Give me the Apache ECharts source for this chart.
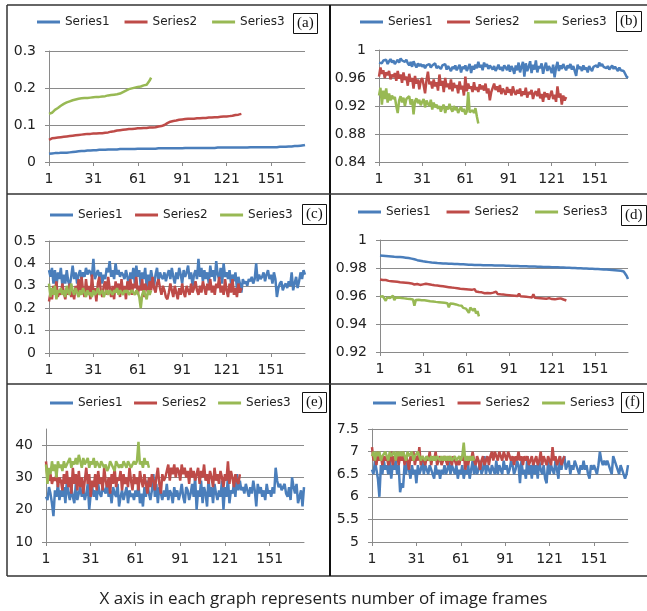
<!DOCTYPE html>
<html><head><meta charset="utf-8">
<script src="https://cdn.jsdelivr.net/npm/echarts@6/dist/echarts.min.js"></script>
<style>html,body{margin:0;padding:0;background:#fff}#c{width:647px;height:611px}</style>
</head><body><div id="c"></div>
<script>
const frames = [1,2,3,4,5,6,7,8,9,10,11,12,13,14,15,16,17,18,19,20,21,22,23,24,25,26,27,28,29,30,31,32,33,34,35,36,37,38,39,40,41,42,43,44,45,46,47,48,49,50,51,52,53,54,55,56,57,58,59,60,61,62,63,64,65,66,67,68,69,70,71,72,73,74,75,76,77,78,79,80,81,82,83,84,85,86,87,88,89,90,91,92,93,94,95,96,97,98,99,100,101,102,103,104,105,106,107,108,109,110,111,112,113,114,115,116,117,118,119,120,121,122,123,124,125,126,127,128,129,130,131,132,133,134,135,136,137,138,139,140,141,142,143,144,145,146,147,148,149,150,151,152,153,154,155,156,157,158,159,160,161,162,163,164,165,166,167,168,169,170,171,172,173,174];
const seriesNames = ['Series1','Series2','Series3'];
const panelLabels = ['(a)','(b)','(c)','(d)','(e)','(f)'];
const footer = 'X axis in each graph represents number of image frames';

const a1 = [0.022,0.022,0.023,0.023,0.024,0.024,0.024,0.025,0.025,0.025,0.025,0.025,0.025,0.026,0.026,0.026,0.027,0.027,0.028,0.028,0.029,0.029,0.030,0.030,0.030,0.031,0.031,0.031,0.031,0.032,0.032,0.032,0.032,0.032,0.033,0.033,0.033,0.033,0.033,0.033,0.034,0.034,0.034,0.034,0.034,0.034,0.034,0.035,0.035,0.035,0.035,0.035,0.035,0.035,0.035,0.035,0.035,0.035,0.035,0.036,0.036,0.036,0.036,0.036,0.036,0.036,0.036,0.036,0.036,0.036,0.036,0.036,0.036,0.036,0.037,0.037,0.037,0.037,0.037,0.037,0.037,0.037,0.037,0.037,0.037,0.037,0.037,0.037,0.037,0.037,0.037,0.037,0.038,0.038,0.038,0.038,0.038,0.038,0.038,0.038,0.038,0.038,0.038,0.038,0.038,0.038,0.038,0.038,0.038,0.038,0.038,0.038,0.038,0.039,0.039,0.039,0.039,0.039,0.039,0.039,0.039,0.039,0.039,0.039,0.039,0.039,0.039,0.039,0.039,0.039,0.039,0.039,0.039,0.039,0.039,0.040,0.040,0.040,0.040,0.040,0.040,0.040,0.040,0.040,0.040,0.040,0.040,0.040,0.040,0.040,0.040,0.040,0.040,0.040,0.040,0.040,0.041,0.041,0.041,0.041,0.041,0.042,0.042,0.042,0.042,0.043,0.043,0.043,0.043,0.044,0.044,0.044,0.045,0.046];
const a2 = [0.060,0.063,0.064,0.065,0.065,0.066,0.066,0.067,0.067,0.068,0.068,0.069,0.069,0.070,0.070,0.070,0.071,0.071,0.072,0.072,0.073,0.073,0.074,0.074,0.075,0.075,0.076,0.076,0.076,0.077,0.077,0.077,0.077,0.078,0.078,0.078,0.078,0.078,0.079,0.080,0.080,0.081,0.082,0.083,0.083,0.084,0.085,0.085,0.086,0.086,0.087,0.087,0.088,0.088,0.089,0.089,0.089,0.090,0.090,0.090,0.091,0.091,0.091,0.092,0.092,0.092,0.092,0.093,0.093,0.093,0.093,0.093,0.094,0.095,0.096,0.097,0.097,0.098,0.100,0.102,0.105,0.107,0.109,0.110,0.111,0.112,0.112,0.113,0.114,0.115,0.115,0.116,0.116,0.116,0.117,0.117,0.117,0.117,0.117,0.118,0.118,0.118,0.118,0.118,0.119,0.119,0.119,0.119,0.120,0.120,0.120,0.120,0.121,0.121,0.121,0.122,0.122,0.122,0.123,0.123,0.123,0.124,0.124,0.125,0.125,0.126,0.127,0.127,0.128,0.129,0.130];
const a3 = [0.130,0.129,0.133,0.138,0.141,0.143,0.146,0.149,0.152,0.155,0.157,0.159,0.161,0.163,0.164,0.166,0.167,0.168,0.169,0.170,0.171,0.171,0.172,0.172,0.173,0.173,0.173,0.173,0.174,0.174,0.175,0.175,0.176,0.176,0.176,0.177,0.177,0.178,0.178,0.179,0.180,0.180,0.181,0.181,0.182,0.182,0.183,0.184,0.185,0.187,0.189,0.191,0.193,0.195,0.197,0.198,0.199,0.200,0.201,0.202,0.203,0.203,0.204,0.205,0.207,0.208,0.209,0.212,0.220,0.228];

const b1 = [0.982,0.984,0.981,0.985,0.983,0.986,0.980,0.984,0.987,0.982,0.985,0.980,0.983,0.986,0.982,0.988,0.985,0.987,0.983,0.986,0.981,0.978,0.983,0.976,0.984,0.979,0.975,0.981,0.977,0.980,0.976,0.979,0.974,0.978,0.977,0.980,0.975,0.978,0.976,0.981,0.974,0.977,0.979,0.973,0.978,0.976,0.980,0.972,0.977,0.975,0.970,0.976,0.973,0.978,0.971,0.975,0.979,0.968,0.976,0.973,0.978,0.970,0.975,0.980,0.967,0.977,0.972,0.979,0.974,0.983,0.975,0.979,0.971,0.982,0.976,0.980,0.973,0.978,0.975,0.972,0.977,0.970,0.974,0.979,0.972,0.976,0.970,0.978,0.975,0.971,0.979,0.969,0.977,0.973,0.966,0.978,0.971,0.982,0.968,0.976,0.983,0.962,0.981,0.970,0.976,0.984,0.967,0.979,0.972,0.985,0.968,0.977,0.974,0.981,0.966,0.975,0.982,0.970,0.977,0.973,0.967,0.979,0.961,0.975,0.983,0.970,0.978,0.973,0.980,0.975,0.971,0.978,0.974,0.980,0.972,0.977,0.975,0.963,0.979,0.973,0.976,0.970,0.978,0.972,0.975,0.968,0.977,0.973,0.970,0.976,0.974,0.978,0.975,0.982,0.977,0.980,0.976,0.978,0.974,0.977,0.972,0.975,0.978,0.973,0.976,0.974,0.970,0.975,0.971,0.973,0.970,0.966,0.962,0.960];
const b2 = [0.962,0.975,0.966,0.971,0.960,0.968,0.964,0.970,0.958,0.965,0.961,0.967,0.956,0.970,0.959,0.965,0.953,0.968,0.957,0.962,0.949,0.966,0.955,0.960,0.945,0.963,0.952,0.958,0.944,0.956,0.960,0.950,0.938,0.957,0.969,0.951,0.955,0.945,0.958,0.948,0.954,0.942,0.965,0.949,0.956,0.940,0.960,0.947,0.952,0.944,0.958,0.941,0.953,0.946,0.950,0.938,0.955,0.944,0.949,0.935,0.962,0.941,0.952,0.945,0.948,0.940,0.954,0.943,0.947,0.940,0.951,0.944,0.949,0.942,0.952,0.938,0.945,0.928,0.940,0.946,0.952,0.943,0.948,0.940,0.950,0.937,0.945,0.941,0.936,0.947,0.939,0.944,0.935,0.948,0.940,0.936,0.943,0.938,0.945,0.934,0.941,0.936,0.946,0.932,0.940,0.937,0.943,0.930,0.938,0.941,0.934,0.945,0.931,0.937,0.926,0.940,0.933,0.938,0.929,0.936,0.942,0.930,0.936,0.926,0.948,0.932,0.938,0.922,0.935,0.928,0.933];
const b3 = [0.935,0.946,0.922,0.942,0.930,0.945,0.925,0.938,0.928,0.935,0.930,0.933,0.920,0.910,0.928,0.934,0.925,0.932,0.920,0.930,0.928,0.934,0.922,0.930,0.908,0.927,0.931,0.924,0.929,0.921,0.926,0.930,0.918,0.928,0.923,0.920,0.929,0.915,0.925,0.918,0.922,0.916,0.920,0.912,0.918,0.922,0.910,0.919,0.915,0.923,0.916,0.912,0.920,0.914,0.918,0.910,0.915,0.919,0.912,0.916,0.908,0.912,0.940,0.911,0.909,0.914,0.910,0.917,0.905,0.895];

const c1 = [0.37,0.34,0.38,0.31,0.37,0.29,0.36,0.33,0.38,0.30,0.35,0.31,0.37,0.32,0.30,0.34,0.39,0.33,0.36,0.31,0.35,0.37,0.33,0.36,0.34,0.38,0.35,0.37,0.36,0.34,0.42,0.33,0.35,0.37,0.34,0.36,0.31,0.35,0.33,0.38,0.36,0.41,0.34,0.37,0.33,0.40,0.35,0.37,0.34,0.36,0.35,0.33,0.37,0.34,0.30,0.36,0.33,0.38,0.31,0.39,0.34,0.37,0.30,0.36,0.33,0.38,0.29,0.35,0.31,0.37,0.33,0.30,0.35,0.38,0.32,0.36,0.34,0.33,0.36,0.32,0.35,0.37,0.33,0.38,0.34,0.31,0.36,0.33,0.38,0.35,0.31,0.37,0.34,0.36,0.39,0.33,0.36,0.30,0.35,0.37,0.33,0.42,0.34,0.38,0.32,0.37,0.33,0.36,0.31,0.39,0.34,0.37,0.32,0.41,0.35,0.33,0.38,0.31,0.40,0.34,0.36,0.33,0.37,0.31,0.35,0.32,0.36,0.29,0.34,0.31,0.27,0.33,0.31,0.32,0.30,0.33,0.32,0.34,0.31,0.33,0.40,0.32,0.35,0.33,0.34,0.36,0.32,0.35,0.37,0.33,0.35,0.31,0.36,0.33,0.25,0.29,0.31,0.32,0.28,0.30,0.31,0.29,0.32,0.30,0.36,0.28,0.31,0.34,0.29,0.32,0.36,0.33,0.37,0.35];
const c2 = [0.23,0.27,0.24,0.30,0.26,0.32,0.25,0.28,0.26,0.31,0.27,0.24,0.29,0.26,0.31,0.25,0.28,0.24,0.30,0.27,0.33,0.26,0.34,0.28,0.25,0.33,0.27,0.30,0.24,0.35,0.27,0.29,0.23,0.31,0.34,0.28,0.25,0.30,0.32,0.26,0.34,0.29,0.25,0.30,0.24,0.32,0.27,0.31,0.25,0.33,0.27,0.30,0.24,0.32,0.28,0.33,0.26,0.31,0.29,0.34,0.26,0.30,0.28,0.33,0.25,0.31,0.29,0.27,0.32,0.28,0.34,0.29,0.27,0.31,0.33,0.29,0.26,0.30,0.28,0.25,0.24,0.27,0.31,0.28,0.25,0.30,0.27,0.24,0.29,0.26,0.31,0.27,0.25,0.30,0.28,0.26,0.31,0.27,0.29,0.32,0.28,0.26,0.30,0.27,0.32,0.29,0.26,0.31,0.28,0.33,0.27,0.30,0.26,0.31,0.29,0.34,0.27,0.30,0.26,0.33,0.28,0.25,0.31,0.27,0.33,0.26,0.29,0.25,0.31,0.27,0.29];
const c3 = [0.31,0.25,0.29,0.26,0.30,0.24,0.28,0.27,0.29,0.26,0.28,0.25,0.30,0.27,0.26,0.31,0.28,0.26,0.29,0.27,0.25,0.28,0.26,0.29,0.27,0.25,0.28,0.26,0.27,0.25,0.28,0.26,0.27,0.29,0.26,0.27,0.28,0.25,0.27,0.28,0.26,0.28,0.27,0.26,0.28,0.27,0.29,0.26,0.28,0.27,0.26,0.28,0.27,0.28,0.26,0.27,0.28,0.27,0.26,0.28,0.27,0.25,0.20,0.26,0.28,0.26,0.24,0.28,0.26,0.28];

const d1 = [0.9890,0.9889,0.9888,0.9887,0.9886,0.9885,0.9884,0.9883,0.9882,0.9881,0.9880,0.9880,0.9879,0.9878,0.9878,0.9877,0.9876,0.9875,0.9874,0.9873,0.9871,0.9869,0.9867,0.9865,0.9862,0.9859,0.9856,0.9854,0.9852,0.9850,0.9848,0.9846,0.9845,0.9843,0.9842,0.9840,0.9839,0.9838,0.9837,0.9836,0.9835,0.9834,0.9834,0.9833,0.9833,0.9832,0.9832,0.9831,0.9831,0.9830,0.9830,0.9829,0.9829,0.9828,0.9828,0.9827,0.9827,0.9826,0.9826,0.9825,0.9825,0.9824,0.9824,0.9823,0.9823,0.9823,0.9822,0.9822,0.9822,0.9821,0.9821,0.9821,0.9820,0.9820,0.9820,0.9819,0.9819,0.9819,0.9819,0.9818,0.9818,0.9818,0.9818,0.9817,0.9817,0.9817,0.9817,0.9816,0.9816,0.9816,0.9816,0.9815,0.9815,0.9815,0.9815,0.9814,0.9814,0.9814,0.9813,0.9813,0.9813,0.9812,0.9812,0.9812,0.9811,0.9811,0.9811,0.9810,0.9810,0.9810,0.9809,0.9809,0.9809,0.9808,0.9808,0.9808,0.9807,0.9807,0.9807,0.9806,0.9806,0.9806,0.9805,0.9805,0.9805,0.9804,0.9804,0.9803,0.9803,0.9803,0.9802,0.9802,0.9801,0.9801,0.9800,0.9800,0.9800,0.9799,0.9799,0.9798,0.9798,0.9797,0.9797,0.9797,0.9796,0.9796,0.9795,0.9795,0.9794,0.9794,0.9793,0.9793,0.9792,0.9792,0.9791,0.9791,0.9790,0.9790,0.9789,0.9788,0.9788,0.9787,0.9786,0.9785,0.9784,0.9783,0.9782,0.9781,0.9780,0.9778,0.9775,0.9765,0.9745,0.9722];
const d2 = [0.9718,0.9716,0.9715,0.9712,0.9714,0.9710,0.9708,0.9711,0.9706,0.9709,0.9704,0.9707,0.9702,0.9705,0.9699,0.9703,0.9697,0.9701,0.9695,0.9698,0.9693,0.9696,0.9690,0.9694,0.9682,0.9692,0.9686,0.9690,0.9679,0.9688,0.9683,0.9678,0.9687,0.9675,0.9684,0.9672,0.9680,0.9670,0.9677,0.9668,0.9675,0.9665,0.9672,0.9662,0.9669,0.9660,0.9666,0.9658,0.9663,0.9655,0.9660,0.9652,0.9658,0.9648,0.9655,0.9645,0.9652,0.9643,0.9650,0.9641,0.9648,0.9639,0.9646,0.9636,0.9644,0.9634,0.9649,0.9632,0.9640,0.9628,0.9637,0.9626,0.9634,0.9620,0.9632,0.9622,0.9630,0.9619,0.9628,0.9624,0.9618,0.9630,0.9615,0.9626,0.9612,0.9622,0.9610,0.9620,0.9608,0.9618,0.9606,0.9616,0.9604,0.9614,0.9602,0.9612,0.9600,0.9617,0.9598,0.9610,0.9596,0.9608,0.9594,0.9606,0.9592,0.9604,0.9590,0.9613,0.9588,0.9600,0.9586,0.9598,0.9584,0.9596,0.9582,0.9594,0.9580,0.9592,0.9585,0.9590,0.9578,0.9588,0.9576,0.9586,0.9580,0.9574,0.9583,0.9572,0.9575,0.9570,0.9568];
const d3 = [0.9595,0.9605,0.9598,0.9602,0.9565,0.9590,0.9596,0.9585,0.9593,0.9603,0.9570,0.9588,0.9582,0.9590,0.9578,0.9586,0.9575,0.9583,0.9572,0.9580,0.9570,0.9578,0.9566,0.9575,0.9530,0.9572,0.9565,0.9573,0.9568,0.9570,0.9564,0.9569,0.9560,0.9566,0.9558,0.9563,0.9556,0.9561,0.9552,0.9558,0.9550,0.9556,0.9548,0.9554,0.9545,0.9551,0.9543,0.9548,0.9520,0.9546,0.9538,0.9544,0.9530,0.9540,0.9526,0.9533,0.9520,0.9530,0.9515,0.9525,0.9510,0.9522,0.9480,0.9518,0.9505,0.9495,0.9512,0.9475,0.9492,0.9455];

const e1 = [24,23,27,25,22,18,26,24,28,23,26,24,27,22,29,25,23,27,24,22,28,23,25,27,24,26,23,25,28,20,25,27,24,26,23,28,25,24,27,26,25,29,24,26,22,27,25,24,28,21,24,26,23,25,27,22,26,24,25,23,26,24,28,22,25,21,27,24,29,25,23,26,31,24,28,22,27,25,23,26,24,28,23,26,25,22,27,24,26,23,25,28,24,22,27,26,23,25,28,24,30,20,26,24,29,22,27,25,21,30,24,27,22,28,25,23,26,24,29,20,27,24,30,22,26,25,28,24,31,26,29,26,27,25,28,26,24,27,25,29,26,21,28,25,27,24,26,23,28,25,26,24,27,25,33,29,27,28,26,27,28,25,24,27,23,30,27,25,28,22,24,26,21,27];
const e2 = [35,30,29,31,28,30,29,31,27,30,29,26,31,28,32,27,30,25,33,28,31,26,32,27,30,25,29,33,28,31,24,29,27,31,26,32,28,30,26,33,29,27,30,25,31,28,33,27,30,29,32,26,31,28,30,27,33,29,26,31,28,30,26,32,29,27,31,28,25,30,27,31,29,26,30,33,28,25,31,29,30,32,34,29,33,31,34,30,33,32,29,34,31,33,30,32,28,33,30,32,29,31,33,28,32,30,34,29,31,28,32,30,27,33,29,31,28,32,30,27,31,29,35,28,32,30,27,31,29,28,31];
const e3 = [34,28,33,31,35,32,34,30,35,33,34,32,35,33,34,35,36,33,35,34,36,34,37,35,33,36,34,35,36,33,35,34,36,33,35,34,33,35,34,33,34,32,33,35,34,33,32,35,34,33,34,33,35,34,33,35,34,33,34,35,34,35,41,34,35,33,36,34,35,33];

const f1 = [6.6,6.5,6.8,6.6,6.4,6.0,6.7,6.5,6.8,6.6,6.7,6.5,6.8,6.4,6.7,6.6,6.8,6.5,6.7,6.1,6.3,6.2,6.7,6.5,6.8,6.6,6.4,6.7,6.5,6.6,6.3,6.7,6.5,6.6,6.8,6.5,6.7,6.6,6.5,6.7,6.6,6.5,6.4,6.7,6.5,6.6,6.4,6.6,6.5,6.7,6.5,6.6,6.8,6.5,6.7,6.6,6.5,6.7,6.4,6.6,6.5,6.7,6.4,6.6,6.5,6.7,6.4,6.6,6.8,6.5,6.7,6.5,6.6,6.8,6.5,6.6,6.9,6.5,6.7,6.6,6.5,6.7,6.6,6.5,6.8,6.5,6.7,6.6,6.5,6.8,6.6,6.7,6.5,6.6,6.8,6.7,6.5,6.6,6.8,6.7,6.3,6.8,6.5,6.6,6.4,6.9,6.5,6.7,6.4,6.8,6.5,6.7,6.4,6.8,6.6,6.5,6.7,6.4,6.3,6.8,6.5,6.7,6.6,6.5,6.8,6.6,6.4,6.9,6.6,6.8,6.9,6.6,6.7,6.8,6.5,6.7,6.6,6.8,6.7,6.6,6.5,6.7,6.6,6.8,6.6,6.7,6.5,6.4,6.7,6.6,6.7,6.6,6.5,6.7,7.0,6.8,6.7,6.8,6.7,6.8,6.7,6.6,6.5,6.9,6.8,6.7,6.6,6.5,6.7,6.6,6.5,6.4,6.5,6.7];
const f2 = [7.1,6.8,6.9,6.7,7.0,6.8,6.9,6.7,6.9,6.8,6.9,6.7,6.8,7.0,6.7,6.9,6.8,7.0,6.7,6.9,6.8,7.0,6.7,6.9,6.8,6.6,6.9,6.8,7.0,6.7,6.9,6.8,7.1,6.7,6.9,6.8,6.7,6.9,6.8,7.0,6.7,6.9,6.8,7.0,6.7,6.8,6.9,6.7,6.8,6.9,6.8,6.7,6.9,6.8,6.7,6.9,6.8,6.7,6.8,6.7,6.9,6.8,7.0,6.6,6.8,6.7,6.9,6.8,7.0,6.8,6.7,6.9,6.8,6.6,6.8,6.9,6.7,6.8,6.9,6.7,6.9,7.0,6.8,7.0,6.9,6.8,7.0,6.9,6.8,7.0,6.9,6.8,7.0,6.9,6.8,6.9,6.7,6.9,6.8,7.0,6.8,6.9,6.7,6.9,6.8,6.9,6.7,6.8,6.9,6.7,6.8,6.9,6.7,6.8,7.0,6.7,6.9,6.8,6.7,6.9,6.8,6.7,7.1,6.8,6.9,6.7,6.8,6.9,6.7,6.8,6.9];
const f3 = [6.9,7.0,6.8,7.0,6.9,7.0,6.8,6.9,6.9,7.0,6.9,6.8,7.0,6.9,6.9,7.0,6.8,7.0,6.9,7.0,6.9,7.0,6.9,6.8,7.0,6.9,6.9,7.0,6.8,6.9,6.9,7.0,6.9,6.8,6.9,6.9,6.8,6.9,6.9,6.8,6.9,6.8,6.9,6.8,6.9,6.9,6.8,6.9,6.8,6.9,6.8,6.9,6.8,6.9,6.8,6.8,6.9,6.8,6.8,6.9,6.8,6.9,7.2,6.8,6.9,6.8,6.9,6.8,6.9,6.8];

const yMin = [0, 0.84, 0, 0.92, 10, 5];
const yMax = [0.3, 1, 0.5, 1, 45, 7.5];
const yStep = [0.1, 0.04, 0.1, 0.02, 10, 0.5];

const panels = [[a1,a2,a3],[b1,b2,b3],[c1,c2,c3],[d1,d2,d3],[e1,e2,e3],[f1,f2,f3]];
const colors = ['#4a7ebb','#be4b48','#98b954'];

const grids = [
  {left:49, top:51, width:256, height:111},
  {left:379, top:50, width:249, height:112},
  {left:49, top:241, width:256, height:112},
  {left:380, top:240, width:248, height:112},
  {left:46, top:429, width:258, height:113},
  {left:372, top:429, width:256, height:113}
];
const legendPos = [[37,16],[360,16],[50,209],[358,206],[50,397],[373,397]];
const legendGap = [15, 14.5, 12.5, 16, 11.5, 12];
const boxPos = [[293,13],[616,11],[302,204],[621,205],[302,392],[621,392]];

const gridColor = '#8a8a8a';
const labelFont = {fontFamily:'DejaVu Sans', fontSize:14, color:'#222'};

const xAxes = [], yAxes = [], series = [], legends = [], titles = [];
for (let p = 0; p < 6; p++) {
  xAxes.push({
    type:'category', gridIndex:p, data:frames, boundaryGap:false,
    axisLine:{lineStyle:{color:gridColor, width:1}},
    axisTick:{show:true, interval:29, length:4, lineStyle:{color:gridColor}},
    axisLabel:Object.assign({interval:29, margin:10}, labelFont),
    splitLine:{show:false}
  });
  yAxes.push({
    type:'value', gridIndex:p, min:yMin[p], max:yMax[p], interval:yStep[p],
    axisLine:{show:true, lineStyle:{color:gridColor, width:1}},
    axisTick:{show:true, length:4, lineStyle:{color:gridColor}},
    axisLabel:Object.assign({margin:13, showMaxLabel: p !== 4}, labelFont),
    splitLine:{show:true, showMaxLine: p !== 4, lineStyle:{color:gridColor, width:1}}
  });
  for (let s = 0; s < 3; s++) {
    series.push({
      type:'line', name:seriesNames[s], xAxisIndex:p, yAxisIndex:p,
      data:panels[p][s], showSymbol:false, symbol:'none', animation:false,
      lineStyle:{color:colors[s], width:2.5}, itemStyle:{color:colors[s]}
    });
  }
  legends.push({
    data:seriesNames.map(n => ({name:n, icon:'rect'})),
    left:legendPos[p][0], top:legendPos[p][1],
    itemWidth:23, itemHeight:3, itemGap:legendGap[p], padding:0, selectedMode:false,
    textStyle:{fontFamily:'DejaVu Sans', fontSize:12, color:'#222'}
  });
  titles.push({
    text:panelLabels[p], left:boxPos[p][0], top:boxPos[p][1],
    padding:[3,4], borderColor:'#111', borderWidth:1,
    textStyle:{fontFamily:'Liberation Serif', fontSize:15, fontWeight:'normal', color:'#111'}
  });
}
titles.push({
  text:footer, left:'center', top:586,
  textStyle:{fontFamily:'Open Sans', fontSize:17, fontWeight:'normal', color:'#222'}
});

const frameColor = '#333';
const chart = echarts.init(document.getElementById('c'), null, {renderer:'canvas'});
chart.setOption({
  animation:false,
  title:titles,
  grid:grids,
  xAxis:xAxes,
  yAxis:yAxes,
  legend:legends,
  series:series,
  graphic:[
    {type:'line', shape:{x1:7, y1:5, x2:647, y2:5}, style:{stroke:frameColor, lineWidth:1.5}},
    {type:'line', shape:{x1:7, y1:5, x2:7, y2:576}, style:{stroke:frameColor, lineWidth:1.5}},
    {type:'line', shape:{x1:7, y1:576, x2:647, y2:576}, style:{stroke:frameColor, lineWidth:1.5}},
    {type:'line', shape:{x1:330, y1:5, x2:330, y2:576}, style:{stroke:'#111', lineWidth:2}},
    {type:'line', shape:{x1:7, y1:194, x2:647, y2:194}, style:{stroke:frameColor, lineWidth:1.5}},
    {type:'line', shape:{x1:7, y1:384, x2:647, y2:384}, style:{stroke:frameColor, lineWidth:1.5}}
  ]
});
</script></body></html>
